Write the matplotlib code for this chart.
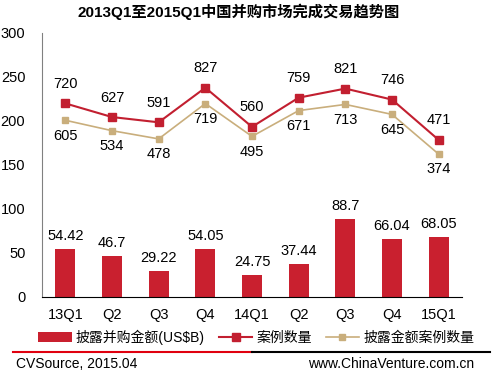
import matplotlib
matplotlib.use("Agg")
import matplotlib.pyplot as plt
import numpy as np
from matplotlib.lines import Line2D

plt.rcParams['font.family'] = ['Liberation Sans', 'Noto Sans CJK SC', 'DejaVu Sans']

# data
quarters = ['13Q1', 'Q2', 'Q3', 'Q4', '14Q1', 'Q2', 'Q3', 'Q4', '15Q1']
amount = [54.42, 46.7, 29.22, 54.05, 24.75, 37.44, 88.7, 66.04, 68.05]
deals = [720, 627, 591, 827, 560, 759, 821, 746, 471]
disclosed_deals = [605, 534, 478, 719, 495, 671, 713, 645, 374]
amount_labels = ['54.42', '46.7', '29.22', '54.05', '24.75', '37.44', '88.7', '66.04', '68.05']

bar_red = '#C9202F'
line_red = '#C21F30'
tan = '#C9AE7C'

fig = plt.figure(figsize=(4.93, 3.73), dpi=100)
ax = fig.add_axes([42/493, 1-297/373, 420/493, 264/373])
x = np.arange(len(quarters))

bars = ax.bar(x, amount, width=0.43, color=bar_red, label='披露并购金额(US$B)', zorder=2)
for xi, v, s in zip(x, amount, amount_labels):
    ax.text(xi, v + 7, s, ha='center', va='bottom', fontsize=10.5)

ax.set_xlim(-0.5, len(quarters) - 0.5)
ax.set_ylim(0, 300)
ax.set_yticks([0, 50, 100, 150, 200, 250, 300])
ax.set_xticks(x)
ax.set_xticklabels(quarters)
ax.tick_params(axis='both', length=0, labelsize=10.5)
ax.tick_params(axis='x', pad=8)
ax.tick_params(axis='y', pad=12)
for side in ['top', 'right']:
    ax.spines[side].set_visible(False)
ax.spines['left'].set_color('#808080')
ax.spines['bottom'].set_color('black')

# hidden secondary axis for counts
ax2 = ax.twinx()
ax2.set_ylim(-600, 1200)
ax2.axis('off')
l1, = ax2.plot(x, deals, color=line_red, lw=1.5, marker='s', ms=5.5, label='案例数量', zorder=3)
l2, = ax2.plot(x, disclosed_deals, color=tan, lw=1.2, marker='s', ms=4.5, label='披露金额案例数量', zorder=3)
for xi, v in zip(x, deals):
    ax2.annotate(str(v), (xi, v), xytext=(0, 9), textcoords='offset points',
                 ha='center', va='bottom', fontsize=10.5)
for xi, v in zip(x, disclosed_deals):
    ax2.annotate(str(v), (xi, v), xytext=(0, -6), textcoords='offset points',
                 ha='center', va='top', fontsize=10.5)

fig.text(0.485, 1 - 12/373, '2013Q1至2015Q1中国并购市场完成交易趋势图', ha='center', va='center',
         fontsize=11, fontweight='bold')

fig.legend([bars, l1, l2], ['披露并购金额(US$B)', '案例数量', '披露金额案例数量'],
           loc='center', bbox_to_anchor=(0.52, 1 - 337/373), ncol=3, frameon=False,
           fontsize=10, handlelength=2.4, columnspacing=1.0, handletextpad=0.3)

# footer
fig.add_artist(Line2D([13/493, 252/493], [1-352/373]*2, color='#E0000F', lw=1.5))
fig.add_artist(Line2D([252/493, 490/493], [1-352/373]*2, color='black', lw=1.5))
fig.text(16/493, 1 - 364/373, 'CVSource, 2015.04', ha='left', va='center', fontsize=10)
fig.text(474/493, 1 - 364/373, 'www.ChinaVenture.com.cn', ha='right', va='center', fontsize=10)

fig.savefig('out.png', dpi=100)
